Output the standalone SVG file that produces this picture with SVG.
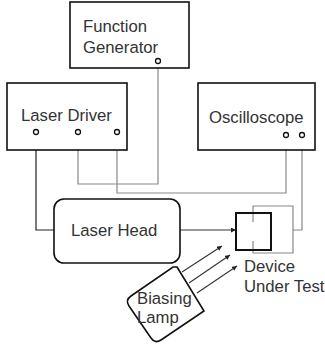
<svg xmlns="http://www.w3.org/2000/svg" width="325" height="344" viewBox="0 0 325 344">
<style>
.box{fill:#fff;stroke:#111;stroke-width:1.6}
.t{font-family:"Liberation Sans",Arial,sans-serif;font-size:16.7px;fill:#333}
.port{fill:#fff;stroke:#111;stroke-width:1.3}
.g{fill:none;stroke:#888;stroke-width:1.2}
.k{fill:none;stroke:#222;stroke-width:1.2}
.a{fill:none;stroke:#333;stroke-width:1.1}
</style>
<defs>
<marker id="ah" viewBox="0 0 10 10" refX="10" refY="5" markerWidth="5" markerHeight="5" orient="auto" markerUnits="userSpaceOnUse"><path d="M0,0 L10,5 L0,10 z" fill="#222"/></marker>
<marker id="ph" viewBox="0 0 10 10" refX="10" refY="5" markerWidth="6" markerHeight="6" orient="auto" markerUnits="userSpaceOnUse"><path d="M0,0 L10,5 L0,10 z" fill="#111"/></marker>
</defs>
<rect width="325" height="344" fill="#fff"/>
<g id="connectors">
<path class="k" d="M36,135 V230 H54"/>
<path class="g" d="M158,63 V184 H78 V135.2" marker-end="url(#ph)"/>
<path class="g" d="M117,135 V193 H286 V138.2" marker-end="url(#ph)"/>
<path class="g" d="M293,230 H302 V138.2" marker-end="url(#ph)"/>
<path class="g" d="M253,222 V206 H293 V253 H253 V241"/>
<path class="a" d="M180,230 H236" marker-end="url(#ah)"/>
<path class="a" d="M182,272 L222,246" marker-end="url(#ah)"/>
<path class="a" d="M189,283 L230,255" marker-end="url(#ah)"/>
<path class="a" d="M197,293 L237,266" marker-end="url(#ah)"/>
</g>
<g id="function-generator">
<rect class="box" x="70" y="2" width="119" height="66"/>
<text class="t" x="83" y="32">Function</text>
<text class="t" x="83" y="53">Generator</text>
<circle class="port" cx="158" cy="61" r="2.5"/>
</g>
<g id="laser-driver">
<rect class="box" x="7" y="83" width="120" height="67"/>
<text class="t" x="21" y="121">Laser Driver</text>
<circle class="port" cx="36" cy="132" r="2.5"/>
<circle class="port" cx="78" cy="132" r="2.5"/>
<circle class="port" cx="117" cy="132" r="2.5"/>
</g>
<g id="oscilloscope">
<rect class="box" x="198" y="83" width="117" height="67"/>
<text class="t" x="209" y="123">Oscilloscope</text>
<circle class="port" cx="286" cy="135" r="2.5"/>
<circle class="port" cx="302" cy="135" r="2.5"/>
</g>
<g id="laser-head">
<rect class="box" x="54" y="199" width="126" height="64" rx="10"/>
<text class="t" x="71" y="236">Laser Head</text>
</g>
<g id="device-under-test">
<rect x="236" y="213" width="35" height="37" fill="none" stroke="#111" stroke-width="2"/>
<text class="t" x="244" y="272">Device</text>
<text class="t" x="244" y="292">Under Test</text>
</g>
<g id="biasing-lamp">
<path d="M177,267 L204,311 L161,340 Q155,344 151,338 L129,306 Q125,300 131,296 L173,267 Z" fill="none" stroke="#111" stroke-width="1.6"/>
<text class="t" x="137" y="304">Biasing</text>
<text class="t" x="137" y="323">Lamp</text>
</g>
</svg>
